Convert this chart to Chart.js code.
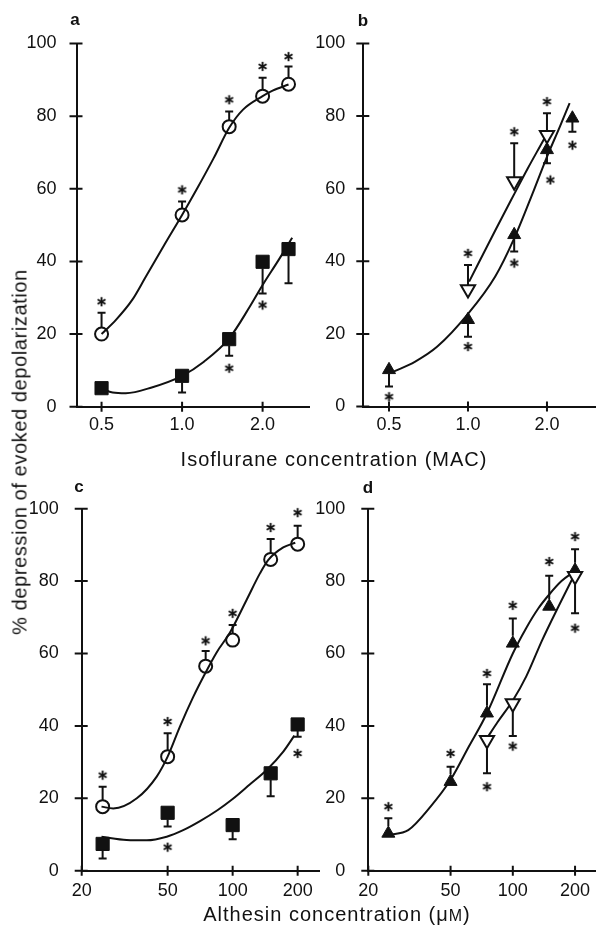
<!DOCTYPE html>
<html>
<head>
<meta charset="utf-8">
<script src="https://cdn.jsdelivr.net/npm/chart.js@4.4.1/dist/chart.umd.min.js"></script>
<style>
  html, body { margin: 0; padding: 0; background: #fff; }
  body { width: 606px; height: 936px; position: relative; overflow: hidden;
         font-family: "Liberation Sans", Arial, Helvetica, sans-serif; color: #111; }
  canvas { position: absolute; }
  .t { position: absolute; white-space: nowrap; font-size: 20px; letter-spacing: 1px; transform: translate(-50%, -50%); }
  .p { position: absolute; font-weight: bold; font-size: 17px; transform: translate(-50%, -50%); }
  .yt { position: absolute; white-space: nowrap; font-size: 20px; letter-spacing: 0.6px; transform: translate(-50%, -50%) rotate(-90deg); }
</style>
</head>
<body>
<canvas id="pa" width="320" height="440" style="left:0;top:0"></canvas>
<canvas id="pb" width="306" height="440" style="left:300px;top:0"></canvas>
<canvas id="pc" width="330" height="440" style="left:0;top:470px"></canvas>
<canvas id="pd" width="306" height="440" style="left:300px;top:470px"></canvas>

<div class="p" style="left:75px;top:20px">a</div>
<div class="p" style="left:363px;top:21px">b</div>
<div class="p" style="left:79px;top:487px">c</div>
<div class="p" style="left:368px;top:488px">d</div>
<div class="yt" style="left:20px;top:452px">% depression of evoked depolarization</div>
<div class="t" style="left:334px;top:459px">Isoflurane concentration (MAC)</div>
<div class="t" style="left:337px;top:914px">Althesin concentration (μ<span style="font-size:0.8em">M</span>)</div>

<script>
const INK = "#111";
const pctTicks = [0, 20, 40, 60, 80, 100];

// ---- isoflurane panels (a, b) ----
const macTicks = [0.5, 1.0, 2.0];
const macTickLabels = ["0.5", "1.0", "2.0"];
const macDoses = [0.5, 1.0, 1.5, 2.0, 2.5];

// a: open circles / filled squares
const aCircle = [20.0, 52.8, 77.1, 85.5, 88.8];
const aCircleErr = [25.9, 56.5, 81.3, 90.6, 93.7];
const aCircleStar = [28.9, 59.7, 84.5, 93.7, 96.4];
const aSquare = [5.1, 8.5, 18.6, 39.9, 43.4];
const aSquareErr = [null, 3.9, 14.0, 31.2, 34.0];
const aSquareStar = [null, null, 10.6, 28.0, null];
const aCircleFitX = [0.5, 0.566, 0.651, 0.728, 0.862, 1.0, 1.141, 1.314, 1.5, 1.69, 2.0, 2.18, 2.5];
const aCircleFitY = [20.0, 23.9, 29.4, 35.5, 44.8, 52.8, 60.2, 68.5, 76.8, 81.8, 85.5, 87.0, 88.7];
const aSquareFitX = [0.5, 0.55, 0.616, 0.77, 1.0, 1.207, 1.5, 1.79, 2.0, 2.3, 2.58];
const aSquareFitY = [5.1, 3.9, 3.7, 5.3, 8.5, 12.4, 18.8, 27.5, 33.5, 40.5, 46.5];

// b: filled triangles / open inverted triangles
const bTri = [10.1, 23.9, 47.3, 70.7, 79.4];
const bTriErr = [5.5, 19.2, 42.7, 67.0, 75.7];
const bTriStarX = [0.5, 1.0, 1.5, 2.06, 2.5];
const bTriStar = [2.7, 16.5, 39.5, 62.4, 72.0];
const bOpenDoses = [1.0, 1.5, 2.0];
const bOpen = [32.3, 62.0, 74.8];
const bOpenErr = [39.0, 72.5, 80.8];
const bOpenStar = [42.2, 75.7, 84.0];
const bTriFitX = [0.52, 0.627, 0.764, 1.0, 1.27, 1.5, 1.785, 2.0, 2.24, 2.44];
const bTriFitY = [9.6, 12.3, 16.5, 25.5, 35.8, 46.3, 59.7, 68.8, 77.1, 83.6];
const bOpenFitX = [1.01, 1.27, 1.5, 1.687, 1.943, 1.97];
const bOpenFitY = [34.4, 48.5, 58.5, 65.5, 73.5, 74.3];

// ---- althesin panels (c, d) ----
const altTicks = [20, 50, 100, 200];
const altTickLabels = ["20", "50", "100", "200"];
const altDoses = [25, 50, 75, 100, 150, 200];

// c: open circles / filled squares
const cCircle = [17.7, 31.5, 56.5, 63.7, 86.0, 90.2];
const cCircleErr = [23.2, 38.0, 60.7, 67.9, 91.6, 95.3];
const cCircleStar = [26.4, 41.2, 63.5, 71.1, 94.8, 98.9];
const cSquareDoses = [25, 50, 100, 150, 200];
const cSquare = [7.4, 16.0, 12.6, 26.9, 40.4];
const cSquareErr = [3.4, 12.2, 8.7, 20.6, 37.0];
const cSquareStar = [null, 6.5, null, null, 32.4];
const cCircleFitX = [24.7, 28.0, 36, 44.5, 50, 57, 65.7, 73.1, 84.3, 97.2, 116, 134, 146, 171.5, 195];
const cCircleFitY = [17.7, 17.2, 20.0, 26.0, 31.5, 39.8, 48.0, 53.5, 60.3, 65.8, 74.8, 82.2, 85.8, 89.3, 90.6];
const cSquareFitX = [24.7, 32.3, 40, 49.5, 59, 70.6, 85, 100, 120, 143.7, 171.6, 193];
const cSquareFitY = [9.4, 8.5, 8.4, 9.4, 11.2, 13.7, 16.7, 19.8, 23.8, 27.8, 32.9, 37.3];

// d: filled triangles / open inverted triangles
const dTri = [10.3, 24.6, 43.5, 62.8, 73.0, 83.0];
const dTriErr = [14.5, 28.7, 51.5, 69.7, 81.5, 88.8];
const dTriStar = [17.7, 32.4, 54.5, 73.3, 85.4, 92.3];
const dOpenDoses = [75, 100, 200];
const dOpen = [36.1, 46.2, 81.4];
const dOpenErr = [26.9, 37.2, 71.1];
const dOpenStar = [23.2, 34.4, 67.0];
const dTriFitX = [25, 31.2, 40, 50, 61.3, 75, 100, 116, 133, 150, 172, 200];
const dTriFitY = [9.9, 11.2, 17.7, 25.1, 34.3, 43.5, 60.0, 67.0, 72.5, 76.3, 80.0, 82.8];
const dOpenFitX = [75, 84.3, 100, 116, 138.7, 166, 200];
const dOpenFitY = [36.6, 41.0, 47.0, 53.6, 63.7, 72.9, 82.1];

Chart.defaults.font.family = '"Liberation Sans", Arial, Helvetica, sans-serif';
Chart.defaults.color = INK;

// asterisk used for the significance marks
const STAR = (() => {
  const c = document.createElement("canvas"); c.width = 11; c.height = 11;
  const g = c.getContext("2d"); g.strokeStyle = INK; g.lineWidth = 1.9;
  [90, 30, 150].forEach((a) => {
    const r = a * Math.PI / 180;
    g.beginPath(); g.moveTo(5.5 - 4.6 * Math.cos(r), 5.5 - 4.6 * Math.sin(r));
    g.lineTo(5.5 + 4.6 * Math.cos(r), 5.5 + 4.6 * Math.sin(r)); g.stroke();
  });
  return c;
})();

// marker looks; edgeUp/edgeDown = where an error bar leaves the symbol
const MK = {
  circle: { pointStyle: "circle", pointRadius: 6.5, pointBorderWidth: 2, pointBackgroundColor: "rgba(0,0,0,0)", edgeUp: 6.5, edgeDown: 6.5 },
  square: { pointStyle: "rect", pointRadius: 9.3, pointBorderWidth: 1, pointBackgroundColor: INK, edgeUp: 6.6, edgeDown: 6.6 },
  tri: { pointStyle: "triangle", pointRadius: 7.5, pointBorderWidth: 1, pointBackgroundColor: INK, edgeUp: 7.5, edgeDown: 3.8 },
  triDown: { pointStyle: "triangle", pointRotation: 180, pointRadius: 8.2, pointBorderWidth: 2, pointBackgroundColor: "#fff", edgeUp: 4.1, edgeDown: 8.2 },
};

const crossTicks = { id: "crossTicks", afterDraw(chart) {
  const { ctx, scales: { x, y }, chartArea: a } = chart;
  ctx.save(); ctx.strokeStyle = INK; ctx.lineWidth = 2; ctx.beginPath();
  y.ticks.forEach((t) => { const py = y.getPixelForValue(t.value); ctx.moveTo(a.left - 7, py); ctx.lineTo(a.left + 6, py); });
  x.ticks.forEach((t) => { const px = x.getPixelForValue(t.value); ctx.moveTo(px, a.bottom - 5); ctx.lineTo(px, a.bottom + 5); });
  ctx.stroke(); ctx.restore();
} };

const errBars = { id: "errBars", afterDatasetsDraw(chart) {
  const { ctx, scales: { x, y } } = chart;
  ctx.save(); ctx.strokeStyle = INK; ctx.lineWidth = 2;
  chart.data.datasets.forEach((ds) => {
    if (!ds.errs) return;
    ds.data.forEach((p, i) => {
      const e = ds.errs[i]; if (e == null) return;
      const px = x.getPixelForValue(p.x), py = y.getPixelForValue(p.y), pe = y.getPixelForValue(e);
      const up = pe < py, start = up ? py - ds.edgeUp : py + ds.edgeDown;
      if (up ? pe >= start : pe <= start) return;
      ctx.beginPath(); ctx.moveTo(px, start); ctx.lineTo(px, pe);
      ctx.moveTo(px - 4, pe); ctx.lineTo(px + 4, pe); ctx.stroke();
    });
  });
  ctx.restore();
} };

const pts = (xs, ys) => xs.map((x, i) => ({ x, y: ys[i] })).filter((p) => p.y != null);

function panel(id, o) {
  const ds = [];
  o.fits.forEach(([fx, fy]) => ds.push({ data: pts(fx, fy), showLine: true, pointRadius: 0, borderColor: INK,
    borderWidth: 2, cubicInterpolationMode: "monotone", order: 2, clip: false }));
  o.marks.forEach((m) => {
    ds.push(Object.assign({ data: pts(m.x, m.y), showLine: false, order: 0, clip: false,
      pointBorderColor: INK, errs: m.err }, MK[m.mk]));
    ds.push({ data: pts(m.sx || m.x, m.star), showLine: false, order: 1, clip: false,
      pointStyle: STAR, pointRadius: 4 });
  });
  new Chart(document.getElementById(id), {
    type: "scatter",
    data: { datasets: ds },
    options: {
      responsive: false, animation: false, events: [],
      layout: { padding: { left: 0, top: o.top, right: o.right, bottom: 0 } },
      plugins: { legend: { display: false }, tooltip: { enabled: false } },
      scales: {
        x: { type: "logarithmic", min: o.xmin, max: o.xmax,
          grid: { display: false }, border: { display: true, color: INK, width: 2 },
          ticks: { autoSkip: false, maxRotation: 0, color: INK, font: { size: 18 }, padding: o.xpad,
            callback: (v, i) => o.xlabels[i] },
          afterBuildTicks: (s) => { s.ticks = o.xticks.map((v) => ({ value: v })); },
          afterFit: (s) => { s.height = o.xh; s.paddingLeft = 0; s.paddingRight = 0; } },
        y: { type: "linear", min: 0, max: 100,
          grid: { display: false }, border: { display: true, color: INK, width: 2 },
          ticks: { color: INK, font: { size: 18 }, padding: o.ypad, callback: (v) => String(v) },
          afterBuildTicks: (s) => { s.ticks = pctTicks.map((v) => ({ value: v })); },
          afterFit: (s) => { s.width = o.yw; s.paddingTop = 0; s.paddingBottom = 0; } },
      },
    },
    plugins: [crossTicks, errBars],
  });
}

panel("pa", { top: 43.5, right: 5, yw: 76.5, xh: 33.3, xmin: 0.403, xmax: 3.0, ypad: 12, xpad: 0,
  xticks: macTicks, xlabels: macTickLabels,
  fits: [[aCircleFitX, aCircleFitY], [aSquareFitX, aSquareFitY]],
  marks: [
    { mk: "circle", x: macDoses, y: aCircle, err: aCircleErr, star: aCircleStar },
    { mk: "square", x: macDoses, y: aSquare, err: aSquareErr, star: aSquareStar },
  ] });

panel("pb", { top: 43.5, right: 2, yw: 63.3, xh: 33.5, xmin: 0.399, xmax: 3.07, ypad: 10, xpad: 0,
  xticks: macTicks, xlabels: macTickLabels,
  fits: [[bTriFitX, bTriFitY], [bOpenFitX, bOpenFitY]],
  marks: [
    { mk: "triDown", x: bOpenDoses, y: bOpen, err: bOpenErr, star: bOpenStar },
    { mk: "tri", x: macDoses, y: bTri, err: bTriErr, star: bTriStar, sx: bTriStarX },
  ] });

panel("pc", { top: 38.7, right: 10, yw: 81.7, xh: 39.3, xmin: 20, xmax: 253, ypad: 15, xpad: 2,
  xticks: altTicks, xlabels: altTickLabels,
  fits: [[cCircleFitX, cCircleFitY], [cSquareFitX, cSquareFitY]],
  marks: [
    { mk: "circle", x: altDoses, y: cCircle, err: cCircleErr, star: cCircleStar },
    { mk: "square", x: cSquareDoses, y: cSquare, err: cSquareErr, star: cSquareStar },
  ] });

panel("pd", { top: 38.7, right: 0, yw: 68.3, xh: 39.3, xmin: 20, xmax: 252, ypad: 15, xpad: 2,
  xticks: altTicks, xlabels: altTickLabels,
  fits: [[dTriFitX, dTriFitY], [dOpenFitX, dOpenFitY]],
  marks: [
    { mk: "triDown", x: dOpenDoses, y: dOpen, err: dOpenErr, star: dOpenStar },
    { mk: "tri", x: altDoses, y: dTri, err: dTriErr, star: dTriStar },
  ] });
</script>
</body>
</html>
